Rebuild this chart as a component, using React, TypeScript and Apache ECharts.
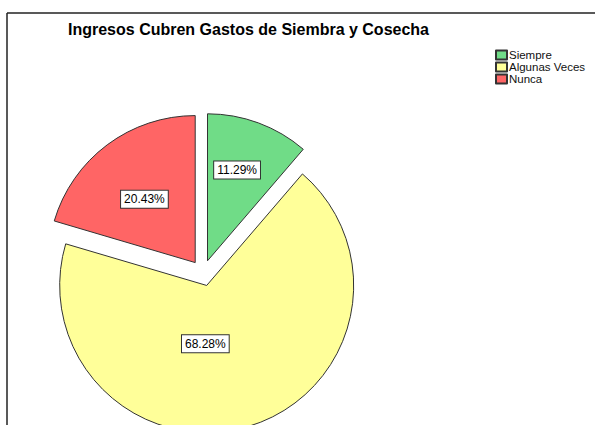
import React, { useEffect, useRef } from "react";
import * as echarts from "echarts";

const categories = ["Siempre", "Algunas Veces", "Nunca"];
const percentages = [11.29, 68.28, 20.43];
const colors = ["#70DC87", "#FFFF99", "#FF6565"];
const titleText = "Ingresos Cubren Gastos de Siembra y Cosecha";
// label nudges (px) to mimic the original label placement
const labelNudge = [
  [3, -19],
  [-23, -15],
  [-5, -2],
];

export default function App() {
  const ref = useRef<HTMLDivElement>(null);
  useEffect(() => {
    if (!ref.current) return;
    const chart = echarts.init(ref.current, null, { renderer: "svg" });
    const font = "Liberation Sans, Arial, sans-serif";
    chart.setOption({
      animation: false,
      backgroundColor: "#ffffff",
      title: {
        text: titleText,
        left: 68,
        top: 21,
        textStyle: { fontFamily: font, fontSize: 16, fontWeight: "bold", color: "#000" },
        padding: 0,
      },
      legend: {
        orient: "vertical",
        left: 495,
        top: 49,
        itemWidth: 11,
        itemHeight: 9,
        itemGap: 0,
        icon: "rect",
        padding: 0,
        textStyle: { fontFamily: font, fontSize: 11.5, color: "#111", padding: [0, 0, 0, -3] },
        data: categories,
      },
      graphic: [
        { type: "line", shape: { x1: 7, y1: 13, x2: 595, y2: 13 }, style: { stroke: "#222", lineWidth: 1.5 } },
        { type: "line", shape: { x1: 7, y1: 13, x2: 7, y2: 425 }, style: { stroke: "#222", lineWidth: 1.5 } },
      ],
      series: [
        {
          type: "pie",
          center: [203, 273],
          radius: 147,
          startAngle: 90,
          clockwise: true,
          selectedMode: "multiple",
          selectedOffset: 13,
          emphasis: { disabled: true },
          itemStyle: { borderColor: "#333", borderWidth: 1 },
          label: {
            show: true,
            position: "inside",
            formatter: (p: any) => p.value.toFixed(2) + "%",
            fontFamily: font,
            fontSize: 12,
            color: "#000",
            backgroundColor: "#fff",
            borderColor: "#333",
            borderWidth: 1,
            padding: [3, 3, 2, 3],
          },
          labelLine: { show: false },
          labelLayout: (p: any) => ({ dx: labelNudge[p.dataIndex][0], dy: labelNudge[p.dataIndex][1] }),
          data: categories.map((c, i) => ({
            name: c,
            value: percentages[i],
            selected: true,
            itemStyle: { color: colors[i] },
          })),
        },
      ],
    });
    return () => chart.dispose();
  }, []);
  return (
    <div
      ref={ref}
      style={{ position: "absolute", left: 0, top: 0, width: 595, height: 425 }}
    />
  );
}
